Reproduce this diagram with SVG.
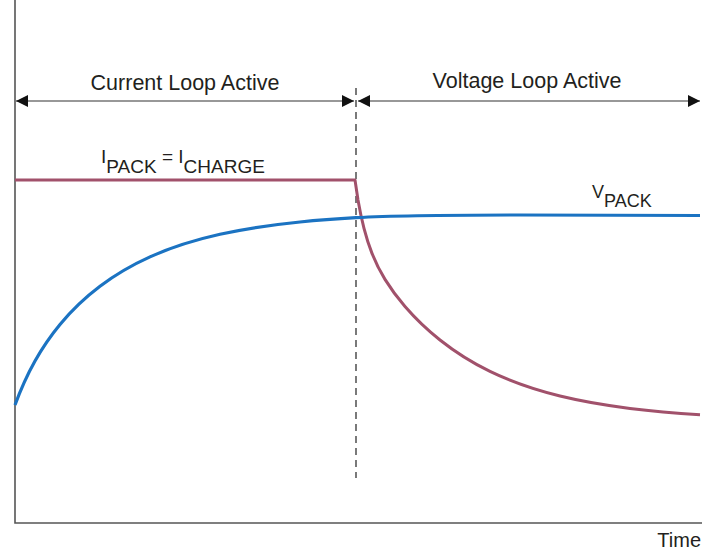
<svg xmlns="http://www.w3.org/2000/svg" width="704" height="551" viewBox="0 0 704 551">
  <style>
    .axis { stroke: #555; stroke-width: 1.6; fill: none; }
    .dim { stroke: #333; stroke-width: 1.2; fill: none; }
    .dash { stroke: #222; stroke-width: 1.2; stroke-dasharray: 7 5; fill: none; }
    .ipack { stroke: #a1516b; stroke-width: 3; fill: none; stroke-linejoin: round; }
    .vpack { stroke: #1b73c2; stroke-width: 3.2; fill: none; stroke-linejoin: round; }
    text { font-family: "Liberation Sans", Arial, sans-serif; fill: #231f20; }
    .big { font-size: 21.5px; }
  </style>
  <defs>
    <marker id="arr" viewBox="0 0 10 10" refX="10" refY="5" markerWidth="12" markerHeight="12" markerUnits="userSpaceOnUse" orient="auto-start-reverse">
      <path d="M0,0 L10,5 L0,10 Z" fill="#111"/>
    </marker>
  </defs>

  <!-- axes -->
  <g id="axes">
    <path class="axis" d="M15,0 V523 H702"/>
  </g>

  <!-- phase boundary and span arrows -->
  <g id="connectors">
    <path class="dash" d="M356,88 V478"/>
    <path class="dim" d="M16,101 H354" marker-start="url(#arr)" marker-end="url(#arr)"/>
    <path class="dim" d="M358,101 H700" marker-start="url(#arr)" marker-end="url(#arr)"/>
  </g>

  <!-- pack current: constant, then exponential decay -->
  <g id="ipack-curve">
    <path class="ipack" d="M15,180 H355 L358,200
      C360,211.55 362,220.64 364,228.38
      C366.67,238.69 369.33,246.61 372,253.36
      C376.33,264.34 380.67,272.32 385,279.39
      C391.67,290.26 398.33,298.77 405,306.47
      C416.67,319.95 428.33,330.71 440,339.97
      C456.67,353.2 473.33,363.28 490,371.39
      C513.33,382.74 536.67,390.31 560,396.02
      C583.33,401.73 606.67,405.54 630,408.42
      C653.33,411.3 676.67,413.22 700,414.67"/>
  </g>

  <!-- pack voltage: exponential rise, then flat -->
  <g id="vpack-curve">
    <path class="vpack" d="M15,405
      C21.67,386.8 28.33,372.85 35,360.96
      C43.33,346.09 51.67,334.48 60,324.41
      C73.33,308.3 86.67,296.28 100,286.23
      C116.67,273.66 133.33,264.36 150,256.86
      C173.33,246.36 196.67,239.47 220,234.27
      C246.67,228.33 273.33,224.67 300,222
      C318.67,220.13 337.33,218.78 356,217.71
      C390,215.77 450,215 520,215 L700,215.5"/>
  </g>

  <!-- labels -->
  <g id="labels">
    <text class="big" x="185" y="90" text-anchor="middle">Current Loop Active</text>
    <text class="big" x="527" y="88" text-anchor="middle">Voltage Loop Active</text>
    <text x="101" y="163" font-size="19">I<tspan dy="10">PACK</tspan><tspan dy="-10"> = I</tspan><tspan dy="10">CHARGE</tspan></text>
    <text x="592" y="198" font-size="18">V<tspan dy="9">PACK</tspan></text>
    <text x="701" y="547" font-size="20" text-anchor="end">Time</text>
  </g>
</svg>
